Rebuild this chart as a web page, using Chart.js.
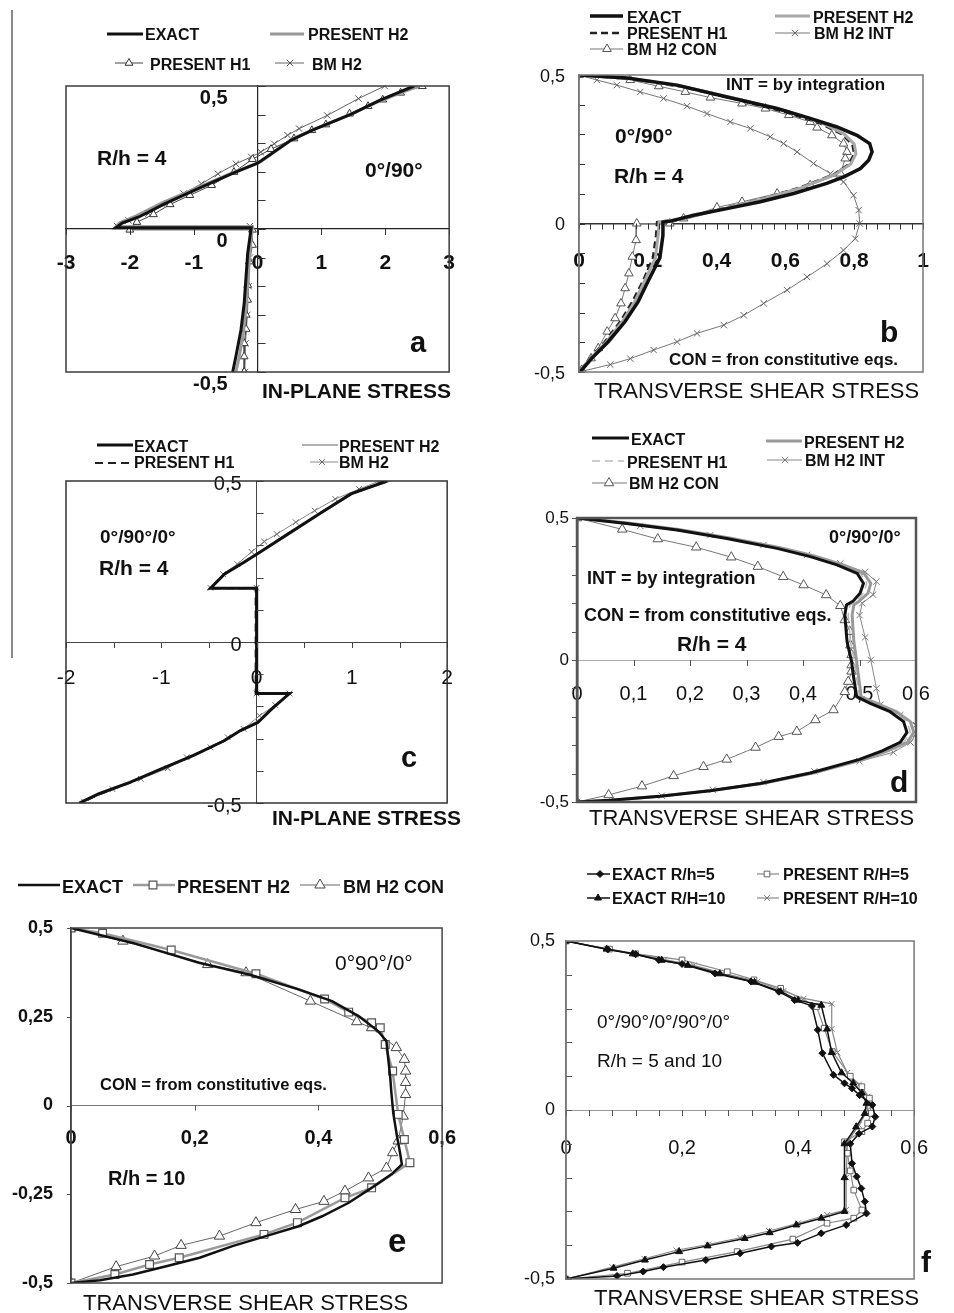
<!DOCTYPE html>
<html>
<head>
<meta charset="utf-8">
<title>Stress profiles through the thickness</title>
<script src="https://cdn.jsdelivr.net/npm/chart.js@4.4.1/dist/chart.umd.min.js"></script>
<style>
  body { margin: 0; background: #fff; }
  #page { position: relative; width: 954px; height: 1313px; overflow: hidden; background: #fff; }
  canvas { position: absolute; }
  #rule { position: absolute; left: 11px; top: 10px; width: 2px; height: 648px; background: #8a8a8a; }
</style>
</head>
<body>
<div id="page">
  <canvas id="pa" width="477" height="420" style="left:0;top:0"></canvas>
  <canvas id="pb" width="477" height="420" style="left:477px;top:0"></canvas>
  <canvas id="pc" width="477" height="440" style="left:0;top:420px"></canvas>
  <canvas id="pd" width="477" height="440" style="left:477px;top:420px"></canvas>
  <canvas id="pe" width="477" height="453" style="left:0;top:860px"></canvas>
  <canvas id="pf" width="477" height="453" style="left:477px;top:860px"></canvas>
  <div id="rule"></div>
</div>
<script>
// ---- data: [stress, z] pairs ----
// a) in-plane stress, 0/90, R/h = 4
const aExact = [[2.45,0.5],[1.91,0.45],[1.45,0.4],[0.85,0.345],[0.52,0.31],[0,0.23],[-0.41,0.193],[-0.93,0.141],[-1.45,0.089],[-1.86,0.042],[-2.12,0.021],[-2.22,0.004],[-0.1,0.004],[-0.155,-0.085],[-0.21,-0.26],[-0.26,-0.353],[-0.34,-0.446],[-0.39,-0.5]];
const aPresH2 = [[2.52,0.5],[1.96,0.452],[1.5,0.405],[0.9,0.35],[0.55,0.315],[0.05,0.235],[-0.38,0.198],[-0.92,0.146],[-1.48,0.093],[-1.9,0.046],[-2.16,0.022],[-2.22,0.008],[-0.08,0.008],[-0.12,-0.08],[-0.17,-0.25],[-0.22,-0.36],[-0.29,-0.45],[-0.34,-0.5]];
const aPresH1 = [[2.58,0.499],[2.24,0.476],[1.96,0.452],[1.73,0.429],[1.44,0.403],[1.07,0.365],[0.85,0.345],[0.57,0.316],[0.21,0.279],[-0.08,0.244],[-0.37,0.199],[-0.72,0.153],[-1.06,0.118],[-1.37,0.086],[-1.63,0.051],[-1.89,0.024],[-2.0,-0.003],[-0.08,-0.003],[-0.08,-0.056],[-0.13,-0.114],[-0.155,-0.196],[-0.155,-0.248],[-0.18,-0.3],[-0.18,-0.35],[-0.21,-0.4],[-0.21,-0.446],[-0.21,-0.5]];
const aBmH2 = [[1.99,0.5],[1.58,0.456],[1.09,0.397],[0.65,0.351],[0.47,0.328],[0.26,0.298],[0.05,0.269],[-0.1,0.252],[-0.34,0.228],[-0.62,0.193],[-0.88,0.158],[-1.16,0.124],[-1.42,0.089],[-1.71,0.054],[-2.02,0.03],[-2.2,0.01],[-0.12,0.01],[-0.12,-0.1],[-0.14,-0.2],[-0.16,-0.3],[-0.19,-0.4],[-0.2,-0.5]];
const aXTicks = [-3, -2, -1, 0, 1, 2, 3];
const aYTicks = [-0.5, 0, 0.5];

// b) transverse shear stress, 0/90, R/h = 4
const bExact = [[0,0.5],[0.14,0.49],[0.285,0.466],[0.43,0.426],[0.576,0.387],[0.672,0.354],[0.75,0.325],[0.808,0.297],[0.845,0.269],[0.852,0.241],[0.842,0.213],[0.818,0.185],[0.77,0.157],[0.72,0.135],[0.624,0.101],[0.527,0.073],[0.43,0.05],[0.333,0.028],[0.266,0.008],[0.244,0.005],[0.244,-0.04],[0.235,-0.116],[0.2,-0.196],[0.172,-0.263],[0.134,-0.33],[0.085,-0.398],[0.037,-0.454],[0.008,-0.493],[0,-0.5]];
const bPresH2 = [[0,0.5],[0.15,0.488],[0.3,0.462],[0.45,0.423],[0.6,0.38],[0.7,0.342],[0.77,0.302],[0.8,0.268],[0.805,0.235],[0.79,0.2],[0.745,0.165],[0.645,0.12],[0.525,0.08],[0.405,0.045],[0.3,0.015],[0.233,0.005],[0.23,-0.04],[0.222,-0.116],[0.19,-0.196],[0.162,-0.263],[0.126,-0.33],[0.08,-0.398],[0.034,-0.454],[0,-0.5]];
const bPresH1 = [[0,0.5],[0.15,0.487],[0.3,0.46],[0.45,0.42],[0.6,0.375],[0.7,0.338],[0.765,0.3],[0.795,0.265],[0.8,0.235],[0.785,0.2],[0.74,0.165],[0.64,0.12],[0.52,0.08],[0.4,0.045],[0.3,0.015],[0.227,0.005],[0.224,-0.04],[0.215,-0.116],[0.185,-0.196],[0.155,-0.263],[0.12,-0.33],[0.075,-0.398],[0.032,-0.454],[0,-0.5]];
const bBmInt = [[0,0.5],[0.052,0.483],[0.11,0.466],[0.178,0.443],[0.246,0.421],[0.314,0.395],[0.372,0.37],[0.44,0.342],[0.498,0.32],[0.556,0.292],[0.595,0.269],[0.634,0.241],[0.682,0.202],[0.731,0.168],[0.769,0.14],[0.798,0.095],[0.813,0.045],[0.816,0],[0.803,-0.051],[0.769,-0.09],[0.721,-0.135],[0.663,-0.18],[0.605,-0.224],[0.537,-0.269],[0.479,-0.309],[0.421,-0.342],[0.343,-0.37],[0.285,-0.398],[0.217,-0.426],[0.149,-0.455],[0.091,-0.475],[0,-0.5]];
const bBmCon = [[0,0.5],[0.149,0.483],[0.232,0.462],[0.309,0.443],[0.382,0.424],[0.474,0.404],[0.542,0.387],[0.61,0.365],[0.672,0.342],[0.692,0.323],[0.735,0.297],[0.769,0.269],[0.779,0.241],[0.774,0.219],[0.76,0.168],[0.672,0.129],[0.576,0.101],[0.474,0.073],[0.401,0.054],[0.304,0.017],[0.264,0],[0.168,0],[0.166,-0.056],[0.155,-0.112],[0.145,-0.168],[0.134,-0.218],[0.122,-0.269],[0.105,-0.319],[0.082,-0.364],[0.056,-0.42],[0.035,-0.454],[0.008,-0.493],[0,-0.5]];
const bXTicks = [0, 0.2, 0.4, 0.6, 0.8, 1];
const bYTicks = [-0.5, 0, 0.5];

// c) in-plane stress, 0/90/0, R/h = 4
const cExact = [[1.37,0.5],[0.99,0.46],[0.66,0.398],[0.328,0.335],[0.03,0.278],[-0.136,0.247],[-0.335,0.211],[-0.484,0.167],[0,0.167],[0,-0.16],[0.345,-0.16],[0.16,-0.208],[0.013,-0.25],[-0.17,-0.275],[-0.335,-0.306],[-0.667,-0.353],[-1.0,-0.394],[-1.33,-0.436],[-1.66,-0.472],[-1.86,-0.5]];
const cPresH2 = [[1.4,0.5],[1.02,0.462],[0.68,0.4],[0.34,0.337],[0.04,0.28],[-0.13,0.25],[-0.33,0.213],[-0.48,0.167],[0.01,0.167],[0.01,-0.16],[0.35,-0.16],[0.17,-0.205],[0.02,-0.245],[-0.16,-0.272],[-0.32,-0.303],[-0.65,-0.35],[-0.98,-0.392],[-1.31,-0.434],[-1.64,-0.47],[-1.85,-0.5]];
const cPresH1 = [[1.35,0.5],[0.98,0.458],[0.65,0.397],[0.32,0.334],[0.02,0.277],[-0.145,0.245],[-0.34,0.21],[-0.48,0.167],[-0.01,0.167],[-0.01,-0.16],[0.34,-0.16],[0.15,-0.21],[0,-0.25],[-0.18,-0.277],[-0.34,-0.307],[-0.67,-0.354],[-1.0,-0.395],[-1.33,-0.437],[-1.65,-0.473],[-1.84,-0.5]];
const cBmH2 = [[1.29,0.5],[1.075,0.475],[0.826,0.444],[0.61,0.408],[0.411,0.372],[0.212,0.335],[0.08,0.312],[-0.053,0.28],[-0.202,0.242],[-0.352,0.211],[-0.484,0.168],[0,0.168],[0,-0.16],[0.345,-0.16],[0.196,-0.196],[0.03,-0.229],[-0.136,-0.27],[-0.302,-0.296],[-0.484,-0.327],[-0.733,-0.358],[-0.932,-0.392],[-1.214,-0.425],[-1.512,-0.457],[-1.81,-0.496]];
const cXTicks = [-2, -1, 0, 1, 2];
const cYTicks = [-0.5, 0, 0.5];

// d) transverse shear stress, 0/90/0, R/h = 4
const dExact = [[0,0.5],[0.088,0.481],[0.177,0.458],[0.265,0.428],[0.354,0.393],[0.413,0.364],[0.46,0.335],[0.496,0.305],[0.507,0.27],[0.501,0.235],[0.489,0.208],[0.477,0.194],[0.474,0.158],[0.478,0.064],[0.486,-0.006],[0.489,-0.053],[0.495,-0.129],[0.519,-0.153],[0.554,-0.182],[0.578,-0.217],[0.584,-0.255],[0.572,-0.29],[0.54,-0.32],[0.5,-0.35],[0.413,-0.398],[0.324,-0.435],[0.236,-0.46],[0.147,-0.48],[0.059,-0.494],[0,-0.5]];
const dPresH2 = [[0,0.5],[0.09,0.482],[0.18,0.46],[0.27,0.43],[0.36,0.395],[0.42,0.366],[0.47,0.336],[0.508,0.305],[0.52,0.27],[0.515,0.235],[0.5,0.208],[0.49,0.194],[0.487,0.158],[0.49,0.064],[0.495,-0.006],[0.498,-0.053],[0.503,-0.129],[0.53,-0.153],[0.565,-0.182],[0.59,-0.217],[0.596,-0.255],[0.585,-0.29],[0.55,-0.32],[0.508,-0.35],[0.42,-0.397],[0.33,-0.434],[0.24,-0.459],[0.15,-0.479],[0.06,-0.494],[0,-0.5]];
const dPresH1 = [[0,0.5],[0.09,0.481],[0.18,0.457],[0.27,0.427],[0.358,0.392],[0.418,0.363],[0.465,0.334],[0.502,0.304],[0.513,0.27],[0.507,0.235],[0.495,0.208],[0.483,0.194],[0.48,0.158],[0.484,0.064],[0.491,-0.006],[0.494,-0.053],[0.5,-0.129],[0.525,-0.153],[0.56,-0.182],[0.584,-0.217],[0.59,-0.255],[0.578,-0.29],[0.546,-0.32],[0.505,-0.35],[0.418,-0.397],[0.328,-0.434],[0.24,-0.459],[0.15,-0.479],[0.06,-0.494],[0,-0.5]];
const dBmInt = [[0,0.5],[0.112,0.472],[0.236,0.44],[0.33,0.405],[0.407,0.37],[0.466,0.34],[0.51,0.31],[0.53,0.276],[0.524,0.23],[0.505,0.2],[0.5,0.158],[0.51,0.08],[0.52,0],[0.53,-0.1],[0.537,-0.158],[0.572,-0.194],[0.6,-0.229],[0.6,-0.26],[0.59,-0.29],[0.56,-0.325],[0.5,-0.357],[0.42,-0.392],[0.33,-0.43],[0.24,-0.457],[0.15,-0.478],[0.06,-0.493],[0,-0.5]];
const dBmCon = [[0,0.5],[0.08,0.46],[0.143,0.426],[0.211,0.397],[0.273,0.362],[0.32,0.329],[0.365,0.293],[0.401,0.264],[0.441,0.229],[0.466,0.191],[0.474,0.141],[0.483,0.1],[0.484,0.052],[0.486,0.018],[0.486,-0.018],[0.486,-0.04],[0.48,-0.076],[0.474,-0.112],[0.454,-0.176],[0.422,-0.211],[0.389,-0.252],[0.357,-0.27],[0.316,-0.308],[0.265,-0.35],[0.224,-0.376],[0.171,-0.408],[0.115,-0.444],[0.056,-0.475],[0,-0.5]];
const dXTicks = [0, 0.1, 0.2, 0.3, 0.4, 0.5, 0.6];
const dYTicks = [-0.5, 0, 0.5];

// e) transverse shear stress, 0/90/0, R/h = 10
const eExact = [[0,0.5],[0.1,0.458],[0.207,0.402],[0.288,0.369],[0.368,0.327],[0.422,0.294],[0.465,0.252],[0.497,0.209],[0.51,0.181],[0.513,0.13],[0.516,0.083],[0.518,0.036],[0.521,-0.021],[0.527,-0.086],[0.532,-0.133],[0.535,-0.166],[0.518,-0.194],[0.486,-0.232],[0.449,-0.274],[0.406,-0.312],[0.368,-0.34],[0.315,-0.368],[0.261,-0.396],[0.208,-0.429],[0.154,-0.453],[0.1,-0.476],[0.047,-0.492],[0,-0.5]];
const ePresH2 = [[0,0.5],[0.051,0.485],[0.162,0.438],[0.299,0.371],[0.41,0.3],[0.449,0.263],[0.486,0.233],[0.5,0.219],[0.508,0.172],[0.52,0.097],[0.529,-0.025],[0.539,-0.096],[0.548,-0.161],[0.486,-0.232],[0.443,-0.26],[0.366,-0.33],[0.312,-0.363],[0.175,-0.429],[0.127,-0.448],[0.071,-0.476],[0,-0.5]];
const eBmCon = [[0,0.5],[0.084,0.463],[0.221,0.397],[0.283,0.374],[0.387,0.294],[0.462,0.236],[0.486,0.219],[0.526,0.163],[0.539,0.13],[0.541,0.097],[0.541,0.065],[0.541,0.031],[0.537,-0.03],[0.529,-0.1],[0.52,-0.133],[0.51,-0.176],[0.481,-0.204],[0.443,-0.241],[0.409,-0.27],[0.363,-0.293],[0.299,-0.33],[0.24,-0.368],[0.178,-0.394],[0.135,-0.424],[0.073,-0.454],[0,-0.5]];
const eXTicks = [0, 0.2, 0.4, 0.6];
const eYTicks = [-0.5, -0.25, 0, 0.25, 0.5];

// f) transverse shear stress, 0/90/0/90/0, R/h = 5 and 10
const fExact5 = [[0,0.5],[0.072,0.475],[0.12,0.461],[0.16,0.444],[0.2,0.432],[0.257,0.404],[0.319,0.38],[0.367,0.35],[0.394,0.325],[0.424,0.308],[0.434,0.237],[0.442,0.168],[0.461,0.104],[0.48,0.079],[0.493,0.064],[0.506,0.044],[0.528,0.015],[0.533,-0.02],[0.528,-0.049],[0.505,-0.07],[0.49,-0.1],[0.493,-0.158],[0.501,-0.197],[0.509,-0.232],[0.515,-0.271],[0.518,-0.306],[0.483,-0.34],[0.44,-0.365],[0.399,-0.393],[0.354,-0.404],[0.3,-0.424],[0.241,-0.444],[0.168,-0.465],[0.133,-0.478],[0.088,-0.491],[0,-0.5]];
const fExact10 = [[0,0.5],[0.07,0.476],[0.115,0.462],[0.165,0.443],[0.21,0.428],[0.265,0.403],[0.325,0.378],[0.37,0.35],[0.4,0.325],[0.44,0.31],[0.45,0.24],[0.458,0.17],[0.475,0.11],[0.495,0.08],[0.51,0.05],[0.518,0.02],[0.515,-0.01],[0.5,-0.05],[0.48,-0.1],[0.48,-0.2],[0.48,-0.3],[0.44,-0.32],[0.397,-0.34],[0.351,-0.363],[0.308,-0.38],[0.244,-0.402],[0.195,-0.419],[0.136,-0.444],[0.082,-0.468],[0,-0.5]];
const fPres5 = [[0,0.5],[0.075,0.476],[0.12,0.462],[0.2,0.444],[0.278,0.409],[0.324,0.385],[0.37,0.36],[0.432,0.306],[0.445,0.242],[0.459,0.173],[0.49,0.1],[0.51,0.069],[0.523,0.035],[0.526,-0.01],[0.52,-0.039],[0.51,-0.064],[0.48,-0.094],[0.485,-0.128],[0.49,-0.18],[0.496,-0.237],[0.51,-0.296],[0.496,-0.32],[0.45,-0.335],[0.391,-0.382],[0.295,-0.419],[0.2,-0.45],[0.106,-0.483],[0,-0.5]];
const fPres10 = [[0,0.5],[0.07,0.477],[0.12,0.463],[0.17,0.445],[0.22,0.428],[0.27,0.405],[0.33,0.38],[0.375,0.352],[0.41,0.33],[0.458,0.314],[0.458,0.24],[0.468,0.17],[0.485,0.11],[0.505,0.075],[0.52,0.04],[0.52,0],[0.505,-0.045],[0.485,-0.095],[0.483,-0.2],[0.483,-0.295],[0.45,-0.31],[0.4,-0.335],[0.35,-0.358],[0.3,-0.378],[0.245,-0.398],[0.19,-0.415],[0.135,-0.44],[0.08,-0.465],[0,-0.5]];
const fXTicks = [0, 0.2, 0.4, 0.6];
const fYTicks = [-0.5, 0, 0.5];

// ---- drawing ----
const F = '"Liberation Sans", Arial, Helvetica, sans-serif';
const fmt = v => String(v).replace('.', ',');

function series(label, data, o) {
  return {
    label: label,
    data: data.map(p => ({x: p[0], y: p[1]})),
    showLine: true, tension: 0,
    borderColor: o.color, borderWidth: o.width, borderDash: o.dash || [],
    pointStyle: o.marker || 'circle',
    pointRadius: o.marker ? o.r : 0, pointHoverRadius: 0,
    pointBorderColor: o.mcolor || o.color,
    pointBackgroundColor: o.fill || '#fff',
    pointBorderWidth: o.mw || 1
  };
}

const DECOR = {};

const decorPlugin = {
  id: 'decor',
  afterDraw(chart) {
    const d = DECOR[chart.canvas.id];
    const ctx = chart.ctx;
    const ca = chart.chartArea;
    const xs = chart.scales.x, ys = chart.scales.y;
    const ox = d.origin[0], oy = d.origin[1];
    ctx.save();

    // small tick marks along the two axes
    ctx.strokeStyle = d.tickColor;
    ctx.lineWidth = 1;
    ctx.setLineDash([]);
    ctx.beginPath();
    const [xs0, xdir, xlen] = d.xMinor;
    const yBase = ys.getPixelForValue(0);
    const nx = Math.round((xs.max - xs.min) / xs0);
    for (let i = 0; i <= nx; i++) {
      const p = Math.round(xs.getPixelForValue(xs.min + i * xs0)) + 0.5;
      ctx.moveTo(p, yBase); ctx.lineTo(p, yBase + xdir * xlen);
    }
    const [ys0, ydir, ylen] = d.yMinor;
    const xBase = xs.getPixelForValue(d.yAt);
    const ny = Math.round((ys.max - ys.min) / ys0);
    for (let i = 0; i <= ny; i++) {
      const p = Math.round(ys.getPixelForValue(ys.min + i * ys0)) + 0.5;
      ctx.moveTo(xBase, p); ctx.lineTo(xBase + ydir * ylen, p);
    }
    ctx.stroke();

    // y tick labels, right-aligned left of the vertical axis
    ctx.font = d.yLab.font + ' ' + F;
    ctx.fillStyle = '#111';
    ctx.textAlign = 'right';
    ctx.textBaseline = 'middle';
    ys.ticks.forEach(t => {
      ctx.fillText(fmt(t.value), xBase - d.yLab.gap, ys.getPixelForValue(t.value) + d.yLab.off);
    });

    // plot frame
    ctx.strokeStyle = d.frame[0];
    ctx.lineWidth = d.frame[1];
    ctx.strokeRect(ca.left, ca.top, ca.right - ca.left, ca.bottom - ca.top);

    // legend samples
    ctx.font = d.legendFont;
    ctx.textAlign = 'left';
    ctx.textBaseline = 'alphabetic';
    d.legend.forEach(it => {
      const ds = chart.data.datasets[it.ds];
      ctx.strokeStyle = ds.borderColor;
      ctx.lineWidth = ds.borderWidth;
      ctx.setLineDash(ds.borderDash || []);
      ctx.beginPath();
      ctx.moveTo(it.x1 - ox, it.y - oy);
      ctx.lineTo(it.x2 - ox, it.y - oy);
      ctx.stroke();
      ctx.setLineDash([]);
      if (ds.pointRadius > 0) {
        ctx.strokeStyle = ds.pointBorderColor;
        ctx.fillStyle = ds.pointBackgroundColor;
        ctx.lineWidth = ds.pointBorderWidth;
        const mx = it.mx !== undefined ? it.mx : (it.x1 + it.x2) / 2;
        Chart.helpers.drawPoint(ctx, {pointStyle: ds.pointStyle, radius: ds.pointRadius, rotation: 0, borderWidth: ds.pointBorderWidth}, mx - ox, it.y - oy);
      }
      ctx.fillStyle = '#111';
      ctx.fillText(ds.label, it.tx - ox, it.ty - oy);
    });

    // annotations
    d.texts.forEach(t => {
      ctx.font = t[3] + ' ' + F;
      ctx.fillStyle = '#111';
      ctx.fillText(t[0], t[1] - ox, t[2] - oy);
    });
    ctx.restore();
  }
};

function panel(id, cfg) {
  DECOR[id] = cfg;
  return new Chart(document.getElementById(id), {
    type: 'scatter',
    data: {datasets: cfg.datasets},
    options: {
      responsive: false,
      animation: false,
      devicePixelRatio: 1,
      layout: {padding: cfg.pad},
      plugins: {legend: {display: false}, tooltip: {enabled: false}},
      scales: {
        x: {
          type: 'linear', min: cfg.xRange[0], max: cfg.xRange[1],
          position: {y: 0},
          afterBuildTicks: s => { s.ticks = cfg.xTicks.map(v => ({value: v})); },
          ticks: {callback: fmt, color: '#111', font: cfg.xFont, padding: cfg.xPad, autoSkip: false, maxRotation: 0},
          grid: {display: true, drawOnChartArea: false, drawTicks: false},
          border: {color: cfg.zero[0], width: cfg.zero[1]}
        },
        y: {
          type: 'linear', min: -0.5, max: 0.5,
          position: {x: cfg.yAt},
          afterBuildTicks: s => { s.ticks = cfg.yTicks.map(v => ({value: v})); },
          ticks: {display: false},
          grid: {display: true, drawOnChartArea: false, drawTicks: false},
          border: {color: cfg.yBorder[0], width: cfg.yBorder[1]}
        }
      }
    },
    plugins: [decorPlugin]
  });
}

// panel a
panel('pa', {
  origin: [0, 0], pad: {left: 66, top: 86, right: 24, bottom: 48},
  xRange: [-3, 3], xTicks: aXTicks, yTicks: aYTicks, yAt: 0,
  xFont: {family: F, size: 21, weight: 'bold'}, xPad: 22,
  yLab: {font: 'bold 20px', gap: 30, off: 12},
  zero: ['#222', 1.2], yBorder: ['#222', 1.2], frame: ['#3c3c3c', 1.5],
  tickColor: '#333', xMinor: [1, 1, 6], yMinor: [0.1, 1, 8],
  datasets: [
    series('EXACT', aExact, {color: '#111', width: 3}),
    series('PRESENT H2', aPresH2, {color: '#9a9a9a', width: 3}),
    series('PRESENT H1', aPresH1, {color: '#444', width: 1, marker: 'triangle', r: 4.5, mcolor: '#333'}),
    series('BM H2', aBmH2, {color: '#666', width: 1, marker: 'crossRot', r: 4.5, mcolor: '#555'})
  ],
  legendFont: 'bold 16px ' + F,
  legend: [
    {ds: 0, x1: 107, x2: 143, y: 34, tx: 145, ty: 40},
    {ds: 1, x1: 270, x2: 304, y: 34, tx: 308, ty: 40},
    {ds: 2, x1: 115, x2: 143, y: 63, mx: 129, tx: 150, ty: 70},
    {ds: 3, x1: 275, x2: 304, y: 63, mx: 290, tx: 312, ty: 70}
  ],
  texts: [
    ['R/h = 4', 97, 165, 'bold 21px'],
    ['0°/90°', 365, 177, 'bold 21px'],
    ['a', 410, 352, 'bold 29px'],
    ['IN-PLANE STRESS', 262, 398, 'bold 21px']
  ]
});

// panel b
panel('pb', {
  origin: [477, 0], pad: {left: 102, top: 75, right: 31, bottom: 48},
  xRange: [0, 1], xTicks: bXTicks, yTicks: bYTicks, yAt: 0,
  xFont: {family: F, size: 21, weight: 'bold'}, xPad: 25,
  yLab: {font: '18px', gap: 14, off: 2},
  zero: ['#333', 1.5], yBorder: ['#777', 1.5], frame: ['#777', 1.5],
  tickColor: '#333', xMinor: [1 / 30, 1, 6], yMinor: [0.1, 1, 6],
  datasets: [
    series('EXACT', bExact, {color: '#111', width: 3.5}),
    series('PRESENT H2', bPresH2, {color: '#a8a8a8', width: 3}),
    series('PRESENT H1', bPresH1, {color: '#222', width: 2.5, dash: [7, 4]}),
    series('BM H2 INT', bBmInt, {color: '#777', width: 1, marker: 'crossRot', r: 4.5, mcolor: '#666'}),
    series('BM H2 CON', bBmCon, {color: '#777', width: 1, marker: 'triangle', r: 5, mcolor: '#555'})
  ],
  legendFont: 'bold 16px ' + F,
  legend: [
    {ds: 0, x1: 590, x2: 623, y: 16, tx: 627, ty: 23},
    {ds: 1, x1: 775, x2: 810, y: 16, tx: 813, ty: 23},
    {ds: 2, x1: 590, x2: 623, y: 33, tx: 627, ty: 39},
    {ds: 3, x1: 775, x2: 810, y: 33, mx: 795, tx: 814, ty: 39},
    {ds: 4, x1: 590, x2: 623, y: 49, mx: 607, tx: 627, ty: 55}
  ],
  texts: [
    ['INT = by integration', 726, 90, 'bold 17px'],
    ['0°/90°', 615, 143, 'bold 21px'],
    ['R/h = 4', 614, 183, 'bold 21px'],
    ['b', 880, 342, 'bold 30px'],
    ['CON = fron constitutive eqs.', 669, 365, 'bold 17px'],
    ['TRANSVERSE SHEAR STRESS', 594, 398, '22px']
  ]
});

// panel c
panel('pc', {
  origin: [0, 420], pad: {left: 66, top: 61, right: 9, bottom: 57},
  xRange: [-2, 2], xTicks: cXTicks, yTicks: cYTicks, yAt: 0,
  xFont: {family: F, size: 21}, xPad: 24,
  yLab: {font: '20px', gap: 15, off: 3},
  zero: ['#444', 1], yBorder: ['#444', 1], frame: ['#333', 1.5],
  tickColor: '#444', xMinor: [0.5, 1, 6], yMinor: [0.1, 1, 7],
  datasets: [
    series('EXACT', cExact, {color: '#111', width: 3}),
    series('PRESENT H2', cPresH2, {color: '#999', width: 1.5}),
    series('PRESENT H1', cPresH1, {color: '#222', width: 2, dash: [8, 5]}),
    series('BM H2', cBmH2, {color: '#888', width: 1, marker: 'crossRot', r: 4, mcolor: '#666'})
  ],
  legendFont: 'bold 16px ' + F,
  legend: [
    {ds: 0, x1: 97, x2: 133, y: 445, tx: 134, ty: 452},
    {ds: 1, x1: 302, x2: 338, y: 445, tx: 339, ty: 452},
    {ds: 2, x1: 95, x2: 132, y: 463, tx: 134, ty: 468},
    {ds: 3, x1: 310, x2: 338, y: 462, mx: 322, tx: 339, ty: 468}
  ],
  texts: [
    ['0°/90°/0°', 100, 543, 'bold 19px'],
    ['R/h = 4', 99, 575, 'bold 21px'],
    ['c', 401, 767, 'bold 29px'],
    ['IN-PLANE STRESS', 272, 825, 'bold 21px']
  ]
});

// panel d
panel('pd', {
  origin: [477, 420], pad: {left: 100, top: 98, right: 38, bottom: 58},
  xRange: [0, 0.6], xTicks: dXTicks, yTicks: dYTicks, yAt: 0,
  xFont: {family: F, size: 20}, xPad: 22,
  yLab: {font: '17px', gap: 8, off: 0},
  zero: ['#aaa', 1], yBorder: ['#555', 2.5], frame: ['#555', 2.5],
  tickColor: '#555', xMinor: [0.1, 1, 6], yMinor: [0.1, -1, 5],
  datasets: [
    series('EXACT', dExact, {color: '#111', width: 3}),
    series('PRESENT H2', dPresH2, {color: '#9a9a9a', width: 3}),
    series('PRESENT H1', dPresH1, {color: '#bbb', width: 1.5, dash: [8, 5]}),
    series('BM H2 INT', dBmInt, {color: '#888', width: 1, marker: 'crossRot', r: 4.5, mcolor: '#777'}),
    series('BM H2 CON', dBmCon, {color: '#777', width: 1, marker: 'triangle', r: 5.5, mcolor: '#555'})
  ],
  legendFont: 'bold 16px ' + F,
  legend: [
    {ds: 0, x1: 592, x2: 629, y: 438, tx: 631, ty: 445},
    {ds: 1, x1: 766, x2: 802, y: 441, tx: 804, ty: 448},
    {ds: 2, x1: 592, x2: 624, y: 461, tx: 627, ty: 468},
    {ds: 3, x1: 767, x2: 802, y: 460, mx: 785, tx: 805, ty: 466},
    {ds: 4, x1: 592, x2: 627, y: 483, mx: 609, tx: 629, ty: 489}
  ],
  texts: [
    ['0°/90°/0°', 829, 543, 'bold 18px'],
    ['INT = by integration', 587, 584, 'bold 18px'],
    ['CON = from constitutive eqs.', 584, 621, 'bold 18px'],
    ['R/h = 4', 677, 651, 'bold 21px'],
    ['d', 890, 792, 'bold 30px'],
    ['TRANSVERSE SHEAR STRESS', 589, 825, '22px']
  ]
});

// panel e
panel('pe', {
  origin: [0, 860], pad: {left: 71, top: 68, right: 33, bottom: 30},
  xRange: [0, 0.6], xTicks: eXTicks, yTicks: eYTicks, yAt: 0,
  xFont: {family: F, size: 20, weight: 'bold'}, xPad: 21,
  yLab: {font: 'bold 18px', gap: 18, off: 0},
  zero: ['#777', 1], yBorder: ['#444', 1.5], frame: ['#444', 1.5],
  tickColor: '#555', xMinor: [0.2, 1, 5], yMinor: [0.25, -1, 4],
  datasets: [
    series('EXACT', eExact, {color: '#111', width: 2.5}),
    series('PRESENT H2', ePresH2, {color: '#9a9a9a', width: 2.5, marker: 'rect', r: 5.5, mcolor: '#555', mw: 1.2}),
    series('BM H2 CON', eBmCon, {color: '#666', width: 1, marker: 'triangle', r: 6, mcolor: '#444'})
  ],
  legendFont: 'bold 18px ' + F,
  legend: [
    {ds: 0, x1: 18, x2: 60, y: 885, tx: 62, ty: 893},
    {ds: 1, x1: 133, x2: 175, y: 885, mx: 153, tx: 177, ty: 893},
    {ds: 2, x1: 300, x2: 340, y: 885, mx: 320, tx: 343, ty: 893}
  ],
  texts: [
    ['0°90°/0°', 335, 970, '21px'],
    ['CON = from constitutive eqs.', 100, 1090, 'bold 16.5px'],
    ['R/h = 10', 108, 1185, 'bold 20px'],
    ['e', 388, 1252, 'bold 33px'],
    ['TRANSVERSE SHEAR STRESS', 83, 1310, '22px']
  ]
});

// panel f
panel('pf', {
  origin: [477, 860], pad: {left: 89, top: 81, right: 16, bottom: 34},
  xRange: [0, 0.6], xTicks: fXTicks, yTicks: fYTicks, yAt: 0,
  xFont: {family: F, size: 20}, xPad: 26,
  yLab: {font: '18px', gap: 11, off: 0},
  zero: ['#999', 1], yBorder: ['#777', 1.5], frame: ['#777', 1.5],
  tickColor: '#555', xMinor: [0.04, 1, 6], yMinor: [0.1, 1, 6],
  datasets: [
    series('EXACT R/h=5', fExact5, {color: '#111', width: 1.5, marker: 'rectRot', r: 3.5, fill: '#111'}),
    series('EXACT R/H=10', fExact10, {color: '#111', width: 1.5, marker: 'triangle', r: 4, fill: '#111'}),
    series('PRESENT R/H=5', fPres5, {color: '#888', width: 1.2, marker: 'rect', r: 4, mcolor: '#666'}),
    series('PRESENT R/H=10', fPres10, {color: '#888', width: 1.2, marker: 'crossRot', r: 4, mcolor: '#777'})
  ],
  legendFont: 'bold 16px ' + F,
  legend: [
    {ds: 0, x1: 587, x2: 610, y: 874, mx: 600, tx: 612, ty: 880},
    {ds: 2, x1: 757, x2: 779, y: 874, mx: 767, tx: 783, ty: 880},
    {ds: 1, x1: 587, x2: 610, y: 898, mx: 598, tx: 612, ty: 904},
    {ds: 3, x1: 757, x2: 779, y: 898, mx: 767, tx: 783, ty: 904}
  ],
  texts: [
    ['0°/90°/0°/90°/0°', 597, 1028, '19px'],
    ['R/h = 5 and 10', 597, 1067, '19px'],
    ['f', 921, 1272, 'bold 30px'],
    ['TRANSVERSE SHEAR STRESS', 594, 1305, '22px']
  ]
});
</script>
</body>
</html>
